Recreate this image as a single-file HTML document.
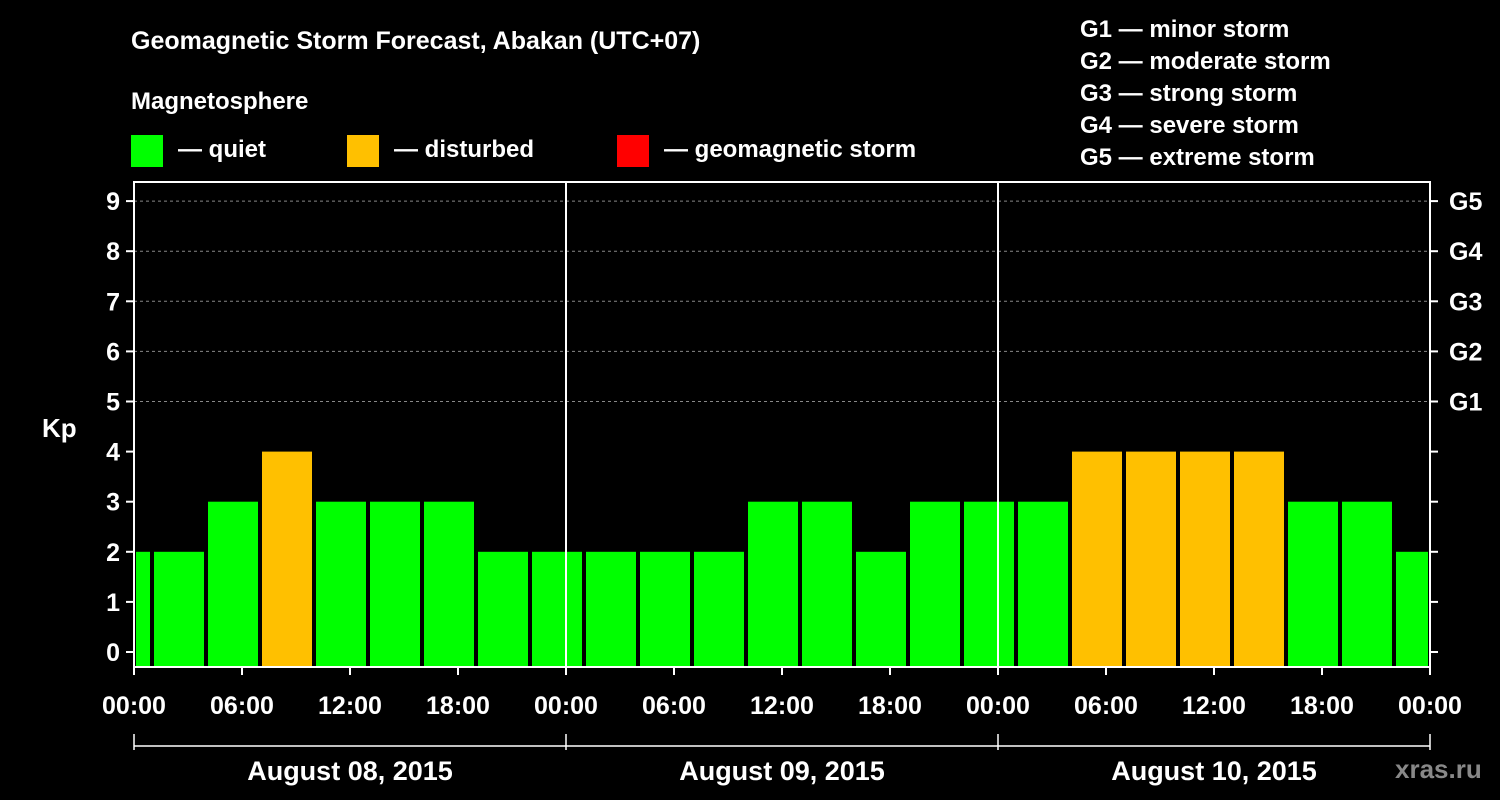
<!DOCTYPE html>
<html><head><meta charset="utf-8"><style>
body{margin:0;background:#000;}
svg{display:block;font-family:"Liberation Sans",Arial,sans-serif;font-weight:bold;}
</style></head><body>
<svg id="c" width="1500" height="800" viewBox="0 0 1500 800">
<rect width="1500" height="800" fill="#000"/>
<text x="131" y="49" fill="#fff" font-size="25">Geomagnetic Storm Forecast, Abakan (UTC+07)</text>
<text x="131" y="109" fill="#fff" font-size="24">Magnetosphere</text>
<g><rect x="131" y="135" width="32" height="32" fill="#00ff00"/><text x="178" y="157" fill="#fff" font-size="24">— quiet</text></g>
<g><rect x="347" y="135" width="32" height="32" fill="#ffc000"/><text x="394" y="157" fill="#fff" font-size="24">— disturbed</text></g>
<g><rect x="617" y="135" width="32" height="32" fill="#ff0000"/><text x="664" y="157" fill="#fff" font-size="24">— geomagnetic storm</text></g>
<g fill="#fff" font-size="24">
<text x="1080" y="37">G1 — minor storm</text>
<text x="1080" y="69">G2 — moderate storm</text>
<text x="1080" y="101">G3 — strong storm</text>
<text x="1080" y="133">G4 — severe storm</text>
<text x="1080" y="165">G5 — extreme storm</text>
</g>
<text x="42" y="437" fill="#fff" font-size="26">Kp</text>
<text x="1395" y="778" fill="#888" font-size="26">xras.ru</text>
<g id="plot"></g>
</svg>
<script>
const kpValues=[2,2,3,4,3,3,3,2,2,2,2,2,3,3,2,3,3,3,4,4,4,4,3,3,2];
const barStartHours=[-2,1,4,7,10,13,16,19,22,25,28,31,34,37,40,43,46,49,52,55,58,61,64,67,70];
const yTicks=[0,1,2,3,4,5,6,7,8,9];
const gLabels=["G1","G2","G3","G4","G5"];
const xTickLabels=["00:00","06:00","12:00","18:00","00:00","06:00","12:00","18:00","00:00","06:00","12:00","18:00","00:00"];
const dayLabels=["August 08, 2015","August 09, 2015","August 10, 2015"];
const X0=134,X1=1430,TOP=182,BOT=667,HOURS=72;
const x=h=>X0+(X1-X0)*h/HOURS;
const y=v=>652-v*50.1;
const ns="http://www.w3.org/2000/svg";
const g=document.getElementById('plot');
function mk(t,a,txt){const e=document.createElementNS(ns,t);for(const k in a)e.setAttribute(k,a[k]);if(txt!==undefined)e.textContent=txt;g.appendChild(e);return e;}
// grid
yTicks.forEach(v=>{if(v>=5){const l=mk('line',{x1:X0,x2:X1,y1:y(v),y2:y(v),stroke:'#888','stroke-dasharray':'3,3','stroke-width':1});

}});
// bars
kpValues.forEach((v,i)=>{const s=Math.max(barStartHours[i],0),e=Math.min(barStartHours[i]+3,HOURS);
const x0=x(s)+(barStartHours[i]>=0?2:2),x1=x(e)-(barStartHours[i]+3<=HOURS?2:2);
const col=v>=5?'#ff0000':(v>=4?'#ffc000':'#00ff00');
const r=mk('rect',{x:x0,y:y(v),width:x1-x0,height:BOT-y(v),fill:col});

});
// frame
const fr=mk('rect',{x:X0,y:TOP,width:X1-X0,height:BOT-TOP,fill:'none',stroke:'#fff','stroke-width':2});


[24,48].forEach(h=>{const l=mk('line',{x1:x(h),x2:x(h),y1:TOP,y2:BOT,stroke:'#fff','stroke-width':2});

});
// y ticks
yTicks.forEach(v=>{mk('line',{x1:X0-8,x2:X0,y1:y(v),y2:y(v),stroke:'#fff','stroke-width':2});
mk('line',{x1:X1,x2:X1+8,y1:y(v),y2:y(v),stroke:'#fff','stroke-width':2});
const t=mk('text',{x:X0-14,y:y(v)+9,fill:'#fff','font-size':25,'text-anchor':'end'},String(v));

});
gLabels.forEach((s,i)=>{const t=mk('text',{x:1449,y:y(5+i)+9,fill:'#fff','font-size':25},s);

});
// x ticks
xTickLabels.forEach((s,i)=>{const h=i*6;mk('line',{x1:x(h),x2:x(h),y1:BOT,y2:BOT+8,stroke:'#fff','stroke-width':2});
const t=mk('text',{x:x(h),y:714,fill:'#fff','font-size':25,'text-anchor':'middle'},s);

});
// day bracket
mk('line',{x1:X0,x2:X1,y1:746,y2:746,stroke:'#fff','stroke-width':1.5});
[0,24,48,72].forEach(h=>mk('line',{x1:x(h),x2:x(h),y1:734,y2:750,stroke:'#fff','stroke-width':1.5}));
dayLabels.forEach((s,i)=>{const t=mk('text',{x:x(i*24+12),y:780,fill:'#fff','font-size':27,'text-anchor':'middle'},s);

});
</script>
</body></html>
